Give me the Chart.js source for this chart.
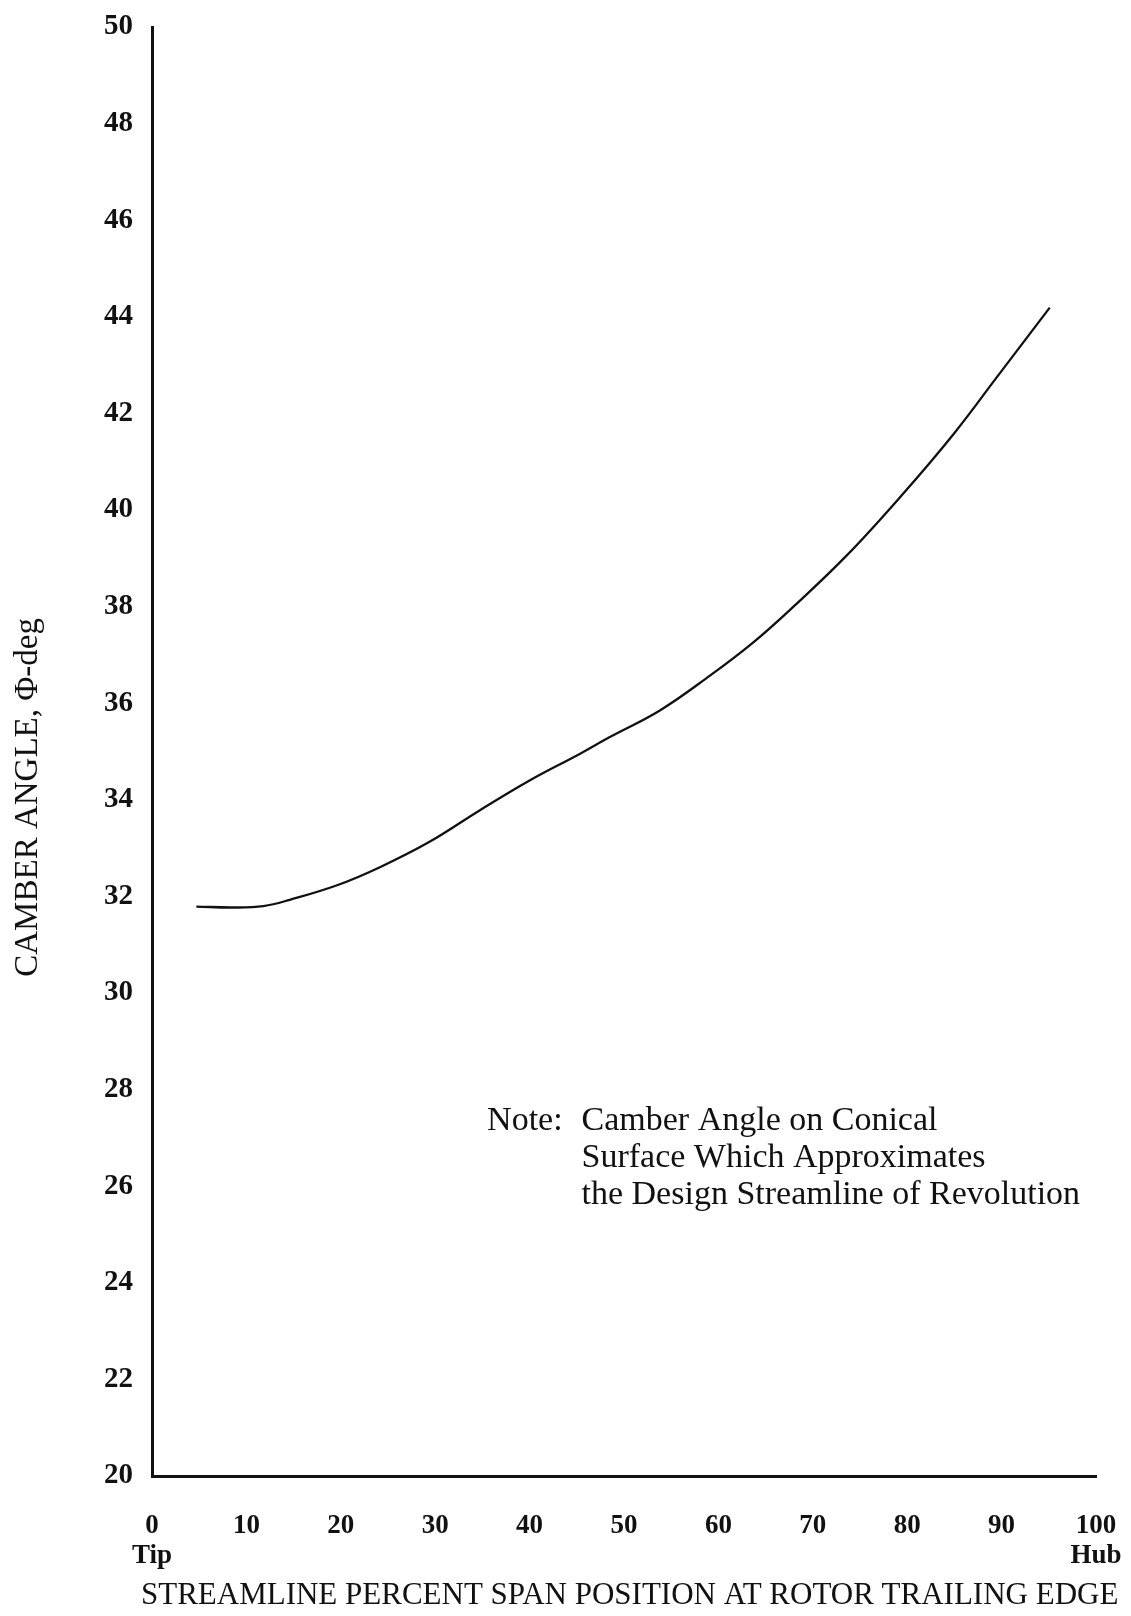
<!DOCTYPE html>
<html>
<head>
<meta charset="utf-8">
<script src="https://cdn.jsdelivr.net/npm/chart.js@4.4.1/dist/chart.umd.min.js"></script>
<style>
  html, body { margin: 0; padding: 0; background: #fff; }
  canvas { display: block; }
</style>
</head>
<body>
<canvas id="chart" width="1131" height="1616"></canvas>
<script>
// percent span position (0 = tip, 100 = hub)
const spanPositions = [4.7, 8.6, 11.8, 14.6, 19.6, 24.2, 29.4, 34.7, 40.0, 45.3, 48.5, 53.8, 59.1, 63.7, 67.9, 73.6, 79.4, 84.9, 89.5, 95.1];
// camber angle, deg
const camberAngles = [31.79, 31.77, 31.80, 31.93, 32.23, 32.61, 33.13, 33.78, 34.40, 34.95, 35.30, 35.85, 36.57, 37.26, 37.99, 39.06, 40.30, 41.57, 42.75, 44.19];

const xTickLabels = { 0: ["0", "Tip"], 100: ["100", "Hub"] };
const xTitle = "STREAMLINE PERCENT SPAN POSITION AT ROTOR TRAILING EDGE";
const yTitle = "CAMBER ANGLE, \u03A6-deg";
const noteLabel = "Note:";
const noteLines = [
  "Camber Angle on Conical",
  "Surface Which Approximates",
  "the Design Streamline of Revolution"
];

const SERIF = "'Liberation Serif', 'DejaVu Serif', serif";
const INK = "#111";

// axis titles and the note are drawn by hand: the x title is wider than the plot
const annotations = {
  id: "annotations",
  afterDraw(chart) {
    const { ctx, scales } = chart;
    ctx.save();
    ctx.fillStyle = INK;
    ctx.textAlign = "center";
    ctx.textBaseline = "middle";

    // x axis title
    ctx.font = `31px ${SERIF}`;
    ctx.fillText(xTitle, scales.x.getPixelForValue(50.6), 1596);

    // y axis title, rotated
    ctx.font = `33px ${SERIF}`;
    ctx.translate(28, scales.y.getPixelForValue(34.05));
    ctx.rotate(-Math.PI / 2);
    ctx.fillText(yTitle, 0, 0);
    ctx.setTransform(1, 0, 0, 1, 0, 0);

    // note block
    ctx.font = `34px ${SERIF}`;
    ctx.textAlign = "left";
    const noteX = scales.x.getPixelForValue(35.5);
    const textX = scales.x.getPixelForValue(45.5);
    const firstY = scales.y.getPixelForValue(27.35);
    ctx.fillText(noteLabel, noteX, firstY);
    noteLines.forEach((line, i) => ctx.fillText(line, textX, firstY + i * 37));

    ctx.restore();
  }
};

new Chart(document.getElementById("chart"), {
  type: "line",
  data: {
    datasets: [
      {
        data: spanPositions.map((x, i) => ({ x: x, y: camberAngles[i] })),
        borderColor: INK,
        borderWidth: 2.3,
        pointRadius: 0,
        tension: 0.4,
        fill: false
      }
    ]
  },
  options: {
    responsive: false,
    animation: false,
    layout: { padding: 0 },
    plugins: {
      legend: { display: false },
      tooltip: { enabled: false }
    },
    scales: {
      x: {
        type: "linear",
        min: 0,
        max: 100,
        afterFit: (scale) => {
          scale.height = 140;
          scale.paddingLeft = 0;
          scale.paddingRight = 35;
        },
        grid: { display: false, drawTicks: false },
        border: { display: true, color: INK, width: 3 },
        ticks: {
          stepSize: 10,
          padding: 35,
          color: INK,
          font: { family: SERIF, size: 27, weight: "bold", lineHeight: 1.1 },
          callback: (value) => xTickLabels[value] || String(value)
        }
      },
      y: {
        type: "linear",
        min: 20,
        max: 50,
        afterFit: (scale) => {
          scale.width = 152;
          scale.paddingTop = 27;
          scale.paddingBottom = 0;
        },
        grid: { display: false, drawTicks: false },
        border: { display: true, color: INK, width: 3 },
        ticks: {
          stepSize: 2,
          padding: 19,
          color: INK,
          font: { family: SERIF, size: 29, weight: "bold" }
        }
      }
    }
  },
  plugins: [annotations]
});
</script>
</body>
</html>
